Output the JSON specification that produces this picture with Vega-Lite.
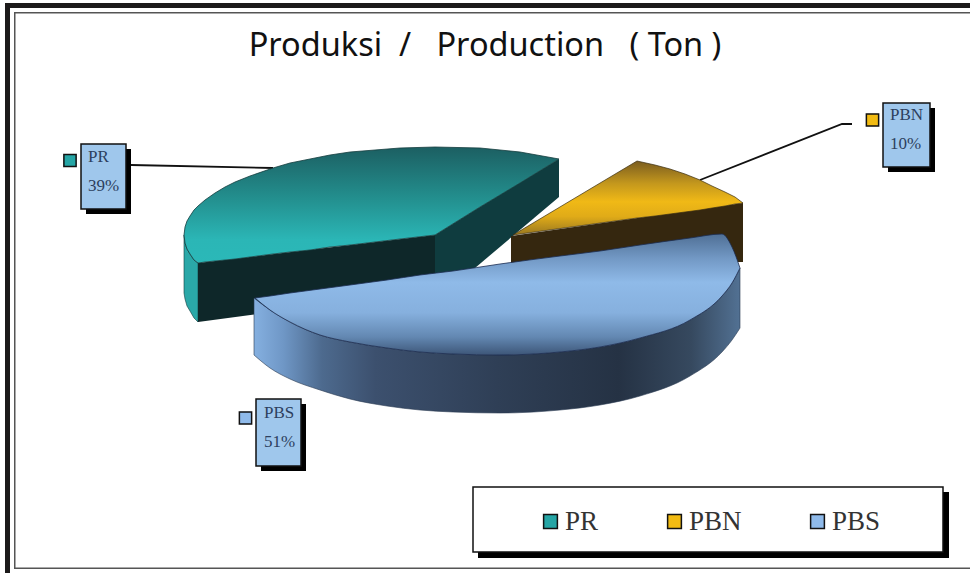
{
"$schema":"https://vega.github.io/schema/vega-lite/v6.json",
"width":970,"height":573,"padding":0,"autosize":{"type":"none"},"background":"white",
"title":{"text":"Produksi\u00a0\u00a0/\u00a0\u00a0\u00a0Production\u00a0\u00a0\u00a0(\u00a0Ton\u00a0)","anchor":"middle","orient":"top","offset":-57,"dy":31,"baseline":"alphabetic","font":"Noto Sans","fontSize":32.5,"fontWeight":"normal","color":"#111111"},
"config":{"view":{"stroke":null}},
"datasets":{
"frame":[
{"part":"thick","x":5,"x2":10,"y":3,"y2":573},
{"part":"thick","x":5,"x2":970,"y":3,"y2":8},
{"part":"thin","x":14,"x2":15.5,"y":12,"y2":569},
{"part":"thin","x":14,"x2":970,"y":12,"y2":13.5},
{"part":"thin","x":14,"x2":970,"y":567.5,"y2":569}
],
"leaders":[
{"series":"PR","x":131,"y":165},{"series":"PR","x":273,"y":168},
{"series":"PBN","x":700,"y":180},{"series":"PBN","x":842,"y":124},{"series":"PBN","x":852,"y":124}
],
"outline":[
{"part":"PRrim","x":184,"y":235,"y2":293},{"part":"PRrim","x":185,"y":243,"y2":299},{"part":"PRrim","x":187,"y":249,"y2":306},{"part":"PRrim","x":190,"y":254,"y2":311},{"part":"PRrim","x":194,"y":260,"y2":318},{"part":"PRrim","x":198,"y":263,"y2":322},
{"part":"PRfront","x":198,"y":263,"y2":322},{"part":"PRfront","x":435,"y":235,"y2":290},
{"part":"PRcut","x":435,"y":235,"y2":275},{"part":"PRcut","x":475,"y":210,"y2":268},{"part":"PRcut","x":559,"y":159,"y2":197},
{"part":"PRtop","x":184,"y":235,"y2":235},{"part":"PRtop","x":185,"y":227,"y2":243},{"part":"PRtop","x":187,"y":221,"y2":249},{"part":"PRtop","x":190,"y":216,"y2":254},{"part":"PRtop","x":194,"y":210,"y2":260},{"part":"PRtop","x":198,"y":206,"y2":263},{"part":"PRtop","x":205,"y":200,"y2":262},{"part":"PRtop","x":215,"y":193,"y2":261},{"part":"PRtop","x":225,"y":187,"y2":260},{"part":"PRtop","x":235,"y":182,"y2":259},{"part":"PRtop","x":250,"y":176,"y2":257},{"part":"PRtop","x":273,"y":168,"y2":254},{"part":"PRtop","x":290,"y":163,"y2":252},{"part":"PRtop","x":310,"y":159,"y2":250},{"part":"PRtop","x":330,"y":155,"y2":247},{"part":"PRtop","x":350,"y":152,"y2":245},{"part":"PRtop","x":375,"y":150,"y2":242},{"part":"PRtop","x":400,"y":148,"y2":239},{"part":"PRtop","x":435,"y":147,"y2":235},{"part":"PRtop","x":480,"y":148,"y2":207},{"part":"PRtop","x":520,"y":152,"y2":183},{"part":"PRtop","x":559,"y":159,"y2":159},
{"part":"PBNside","x":511,"y":236,"y2":264},{"part":"PBNside","x":743,"y":203,"y2":262},
{"part":"PBNtop","x":513,"y":235,"y2":235},{"part":"PBNtop","x":637,"y":161,"y2":218},{"part":"PBNtop","x":655,"y":165,"y2":216},{"part":"PBNtop","x":670,"y":169,"y2":214},{"part":"PBNtop","x":685,"y":174,"y2":212},{"part":"PBNtop","x":700,"y":180,"y2":210},{"part":"PBNtop","x":712,"y":186,"y2":208},{"part":"PBNtop","x":725,"y":192,"y2":206},{"part":"PBNtop","x":735,"y":197,"y2":204},{"part":"PBNtop","x":743,"y":203,"y2":203},
{"part":"PBSside","x":254,"y":298,"y2":355},{"part":"PBSside","x":270,"y":310,"y2":368},{"part":"PBSside","x":290,"y":322,"y2":379},{"part":"PBSside","x":320,"y":335,"y2":390},{"part":"PBSside","x":350,"y":342,"y2":399},{"part":"PBSside","x":387,"y":348,"y2":406},{"part":"PBSside","x":420,"y":352,"y2":410},{"part":"PBSside","x":453,"y":354,"y2":412},{"part":"PBSside","x":500,"y":355,"y2":413},{"part":"PBSside","x":560,"y":352,"y2":410},{"part":"PBSside","x":600,"y":347,"y2":405},{"part":"PBSside","x":640,"y":338,"y2":396},{"part":"PBSside","x":690,"y":320,"y2":376},{"part":"PBSside","x":722,"y":296,"y2":352},{"part":"PBSside","x":732,"y":283,"y2":340},{"part":"PBSside","x":740,"y":268,"y2":328},
{"part":"PBStop","x":255,"y":298,"y2":298},{"part":"PBStop","x":270,"y":296,"y2":310},{"part":"PBStop","x":290,"y":293,"y2":322},{"part":"PBStop","x":320,"y":289,"y2":335},{"part":"PBStop","x":350,"y":285,"y2":342},{"part":"PBStop","x":387,"y":280,"y2":348},{"part":"PBStop","x":420,"y":275,"y2":352},{"part":"PBStop","x":453,"y":271,"y2":354},{"part":"PBStop","x":500,"y":264,"y2":355},{"part":"PBStop","x":560,"y":256,"y2":352},{"part":"PBStop","x":600,"y":251,"y2":347},{"part":"PBStop","x":640,"y":245,"y2":338},{"part":"PBStop","x":690,"y":238,"y2":320},{"part":"PBStop","x":722,"y":234,"y2":296},{"part":"PBStop","x":732,"y":247,"y2":283},{"part":"PBStop","x":740,"y":268,"y2":268}
],
"boxes":[
{"part":"PR","x":81,"x2":126,"y":144,"y2":209,"sx":86,"sx2":131,"sy":149,"sy2":214},
{"part":"PBN","x":883,"x2":930,"y":103,"y2":167,"sx":888,"sx2":935,"sy":108,"sy2":172},
{"part":"PBS","x":256,"x2":301,"y":399,"y2":466,"sx":261,"sx2":306,"sy":404,"sy2":471}
],
"legendBox":[{"x":473,"x2":943,"y":487,"y2":552,"sx":478,"sx2":949,"sy":492,"sy2":558}],
"labels":[
{"label":"PR","x":88,"y":157},{"label":"39%","x":88,"y":186},
{"label":"PBN","x":890,"y":115},{"label":"10%","x":890,"y":144},
{"label":"PBS","x":264,"y":413},{"label":"51%","x":264,"y":442}
],
"swatches":[
{"series":"PR","value":39,"x":70,"y":160.5},
{"series":"PBN","value":10,"x":872.5,"y":120},
{"series":"PBS","value":51,"x":245.5,"y":418}
]
},
"encoding":{
"x":{"field":"x","type":"quantitative","scale":{"domain":[0,970],"nice":false,"zero":false},"axis":null},
"y":{"field":"y","type":"quantitative","scale":{"domain":[573,0],"nice":false,"zero":false},"axis":null}
},
"layer":[
{"data":{"name":"frame"},"transform":[{"filter":"datum.part==='thick'"}],"mark":{"type":"rect","fill":"#1c1a1a"},"encoding":{"x2":{"field":"x2"},"y2":{"field":"y2"}}},
{"data":{"name":"frame"},"transform":[{"filter":"datum.part==='thin'"}],"mark":{"type":"rect","fill":"#555555"},"encoding":{"x2":{"field":"x2"},"y2":{"field":"y2"}}},
{"data":{"name":"leaders"},"mark":{"type":"line","stroke":"#111111","strokeWidth":1.8},"encoding":{"detail":{"field":"series"}}},
{"data":{"name":"outline"},"transform":[{"filter":"datum.part==='PRrim'"}],"mark":{"type":"area","fill":"#2aa8a8","stroke":"#123c3e","strokeWidth":0.6},"encoding":{"y2":{"field":"y2"}}},
{"data":{"name":"outline"},"transform":[{"filter":"datum.part==='PRfront'"}],"mark":{"type":"area","fill":"#0e2729"},"encoding":{"y2":{"field":"y2"}}},
{"data":{"name":"outline"},"transform":[{"filter":"datum.part==='PRcut'"}],"mark":{"type":"area","fill":"#0f3c3f"},"encoding":{"y2":{"field":"y2"}}},
{"data":{"name":"outline"},"transform":[{"filter":"datum.part==='PRtop'"}],"mark":{"type":"area","stroke":"#143c3e","strokeWidth":0.8,"fill":{"gradient":"linear","x1":0,"y1":0,"x2":0,"y2":1,"stops":[{"offset":0,"color":"#1c5f62"},{"offset":0.45,"color":"#23908f"},{"offset":0.8,"color":"#2bb6b6"},{"offset":1,"color":"#2bb8b8"}]}},"encoding":{"y2":{"field":"y2"}}},
{"data":{"name":"outline"},"transform":[{"filter":"datum.part==='PBNside'"}],"mark":{"type":"area","fill":"#35270f"},"encoding":{"y2":{"field":"y2"}}},
{"data":{"name":"outline"},"transform":[{"filter":"datum.part==='PBNtop'"}],"mark":{"type":"area","stroke":"#3a2c10","strokeWidth":0.7,"fill":{"gradient":"linear","x1":0,"y1":0,"x2":0,"y2":1,"stops":[{"offset":0,"color":"#7a5c1f"},{"offset":0.3,"color":"#c3971d"},{"offset":0.55,"color":"#f0b916"},{"offset":0.75,"color":"#e0ab18"},{"offset":1,"color":"#9a7820"}]}},"encoding":{"y2":{"field":"y2"}}},
{"data":{"name":"outline"},"transform":[{"filter":"datum.part==='PBSside'"}],"mark":{"type":"area","interpolate":"monotone","stroke":"#2a3a52","strokeWidth":0.6,"fill":{"gradient":"linear","x1":0,"y1":0,"x2":1,"y2":0,"stops":[{"offset":0,"color":"#85b0e0"},{"offset":0.06,"color":"#6f97c6"},{"offset":0.14,"color":"#4d6a8e"},{"offset":0.25,"color":"#3c506e"},{"offset":0.5,"color":"#2f3f56"},{"offset":0.75,"color":"#253244"},{"offset":0.9,"color":"#36495f"},{"offset":1,"color":"#527193"}]}},"encoding":{"y2":{"field":"y2"}}},
{"data":{"name":"outline"},"transform":[{"filter":"datum.part==='PBStop'"}],"mark":{"type":"area","interpolate":"monotone","stroke":"#1c2c50","strokeWidth":0.8,"fill":{"gradient":"linear","x1":0,"y1":0,"x2":0,"y2":1,"stops":[{"offset":0,"color":"#4f6f95"},{"offset":0.2,"color":"#7298c4"},{"offset":0.4,"color":"#8fbae8"},{"offset":0.65,"color":"#86b0de"},{"offset":0.85,"color":"#6388b2"},{"offset":1,"color":"#3d5678"}]}},"encoding":{"y2":{"field":"y2"}}},
{"data":{"name":"boxes"},"mark":{"type":"rect","fill":"#000000"},"encoding":{"x":{"field":"sx","type":"quantitative"},"x2":{"field":"sx2"},"y":{"field":"sy","type":"quantitative"},"y2":{"field":"sy2"}}},
{"data":{"name":"boxes"},"mark":{"type":"rect","fill":"#9fc7ec","stroke":"#111111","strokeWidth":1.5},"encoding":{"x2":{"field":"x2"},"y2":{"field":"y2"}}},
{"data":{"name":"legendBox"},"mark":{"type":"rect","fill":"#000000"},"encoding":{"x":{"field":"sx","type":"quantitative"},"x2":{"field":"sx2"},"y":{"field":"sy","type":"quantitative"},"y2":{"field":"sy2"}}},
{"data":{"name":"legendBox"},"mark":{"type":"rect","fill":"#ffffff","stroke":"#111111","strokeWidth":1.5},"encoding":{"x2":{"field":"x2"},"y2":{"field":"y2"}}},
{"data":{"name":"labels"},"mark":{"type":"text","align":"left","baseline":"middle","font":"Liberation Serif","fontSize":17,"color":"#2d3f5e"},"encoding":{"text":{"field":"label"}}},
{"data":{"name":"swatches"},"mark":{"type":"point","shape":"square","filled":true,"size":150,"opacity":1,"stroke":"#111111","strokeWidth":1.5},
"encoding":{"color":{"field":"series","type":"nominal","scale":{"domain":["PR","PBN","PBS"],"range":["#25a5a5","#f2bb12","#8fbaea"]},
"legend":{"orient":"none","legendX":537,"legendY":508,"direction":"horizontal","columns":3,"gridAlign":"none","columnPadding":62,"title":null,"symbolType":"square","symbolSize":190,"symbolStrokeColor":"#111111","symbolStrokeWidth":1.5,"symbolOpacity":1,"labelFont":"Liberation Serif","labelFontSize":27,"labelColor":"#333333","labelOffset":1,"padding":0}}}}
]
}
